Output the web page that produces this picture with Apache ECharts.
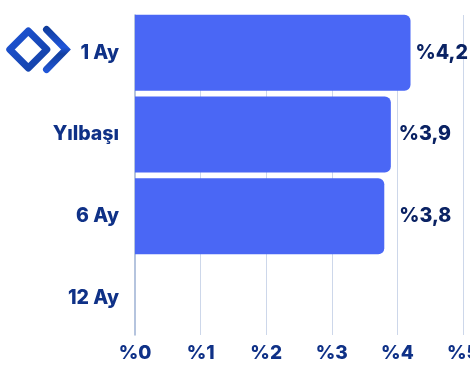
<!DOCTYPE html>
<html><head><meta charset="utf-8">
<style>html,body{margin:0;padding:0;background:#fff;overflow:hidden}#c{width:470px;height:367px}</style>
<script src="https://cdn.jsdelivr.net/npm/echarts@6/dist/echarts.min.js"></script>
</head><body><div id="c"></div>
<script>
const categories = ['1 Ay', 'Yılbaşı', '6 Ay', '12 Ay'];
const values = [4.2, 3.9, 3.8, null];
const valueLabels = ['%4,2', '%3,9', '%3,8', ''];
const labelGaps = [5, 8, 15, 0];
const ticks = ['%0', '%1', '%2', '%3', '%4', '%5'];
const font = 'Inter';
const chart = echarts.init(document.getElementById('c'), null, {renderer: 'canvas'});
const grad = (a, b) => new echarts.graphic.LinearGradient(0, 0, 1, 1, [{offset: 0, color: a}, {offset: 1, color: b}]);
chart.setOption({
  animation: false,
  backgroundColor: '#fff',
  grid: [
    {left: 135, top: 15, width: 328, height: 320, outerBoundsMode: 'none'},
    {left: 135, top: 12, width: 328, height: 326.8, outerBoundsMode: 'none'}
  ],
  xAxis: [
    {gridIndex: 0, type: 'value', min: 0, max: 5, interval: 1,
     axisLine: {show: false}, axisTick: {show: false},
     splitLine: {show: true, showMinLine: false, lineStyle: {color: '#cdd7ea', width: 1}},
     axisLabel: {show: true, margin: 9, color: '#0f3187', fontFamily: font, fontWeight: 800, fontSize: 19,
       hideOverlap: false, showMinLabel: true, showMaxLabel: true,
       formatter: (v) => ticks[v]}},
    {gridIndex: 1, type: 'value', min: 0, max: 5, interval: 1, show: false}
  ],
  yAxis: [
    {gridIndex: 0, type: 'category', data: categories, inverse: true,
     axisLine: {show: true, lineStyle: {color: '#9db1d3', width: 1.5}}, axisTick: {show: false},
     axisLabel: {show: false}},
    {gridIndex: 1, type: 'category', data: categories, inverse: true,
     axisLine: {show: false}, axisTick: {show: false},
     splitLine: {show: false},
     axisLabel: {margin: 16, color: '#0f3187', fontFamily: font, fontWeight: 800, fontSize: 19.5}}
  ],
  series: [{
    type: 'bar', xAxisIndex: 1, yAxisIndex: 1,
    data: values.map((v, i) => ({
      value: v,
      label: {show: v !== null, position: 'right', distance: labelGaps[i], formatter: valueLabels[i]}
    })),
    barWidth: 76,
    itemStyle: {color: '#4a67f5', borderRadius: [0, 6, 6, 0]},
    label: {color: '#0a2263', fontFamily: font, fontWeight: 800, fontSize: 19.6}
  }],
  graphic: [
    {type: 'polygon', silent: true, shape: {points: [[28.3,31],[46.8,49.5],[28.3,68],[9.8,49.5]]},
     style: {fill: 'none', stroke: grad('#1f55da', '#123f9f'), lineWidth: 7, lineJoin: 'round'}},
    {type: 'polyline', silent: true, shape: {points: [[46.5,29.5],[66,49.5],[46.5,69.5]]},
     style: {fill: 'none', stroke: new echarts.graphic.LinearGradient(0, 0, 0, 1, [{offset: 0, color: '#0e3a97'}, {offset: 0.45, color: '#1f55da'}, {offset: 0.6, color: '#123f9f'}, {offset: 1, color: '#2258dc'}]), lineWidth: 7, lineCap: 'round', lineJoin: 'miter'}}
  ]
});
</script></body></html>
